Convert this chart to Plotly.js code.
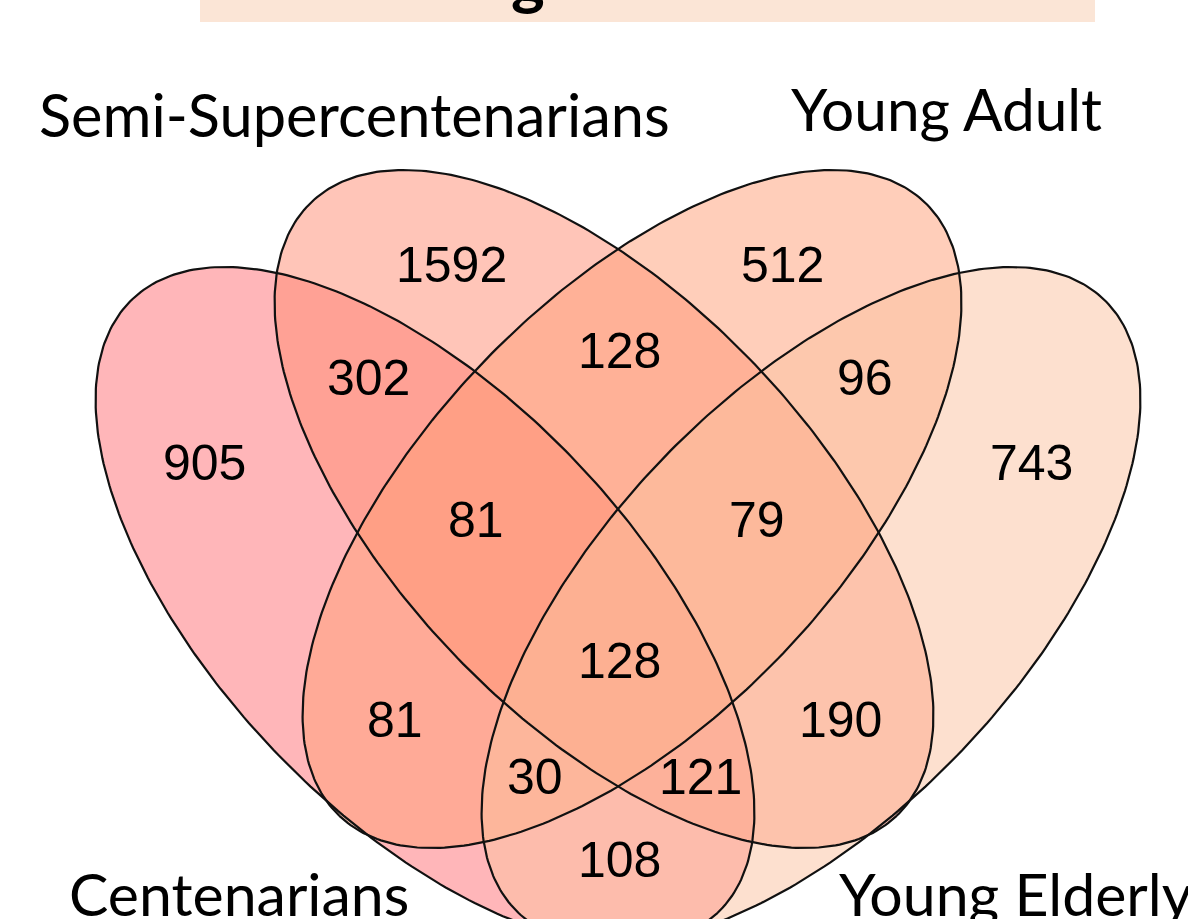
<!DOCTYPE html>
<html><head><meta charset="utf-8">
<script src="https://cdn.plot.ly/plotly-3.0.1.min.js"></script>
<style>html,body{margin:0;padding:0;background:#fff}#chart{width:1188px;height:919px}</style>
</head><body><div id="chart"></div>
<script>
// ---- data ----
const setNames = ["Centenarians", "Semi-Supercentenarians", "Young Adult", "Young Elderly"];
const regionKeys = ["C", "S", "YA", "YE", "C&S", "S&YA", "YA&YE", "C&S&YA", "S&YA&YE",
                    "C&S&YA&YE", "C&YA", "S&YE", "C&YA&YE", "C&S&YE", "C&YE"];
const regionCounts = [905, 1592, 512, 743, 302, 128, 96, 81, 79, 128, 81, 190, 30, 121, 108];
const titleFragment = "g";

// ---- layout (pixel geometry, styles) ----
const W = 1188, H = 919;
const regionLabelPos = [[204,463],[451,265],[782,265],[1031,463],[368,378],[619,351],[865,378],
  [476,520],[757,520],[619,661],[395,720],[840,720],[535,777],[700,777],[619,860]];
const setLabelPos = [[67,893],[37,114],[789,108],[837,893]];
const setLabelSize = [59, 59.5, 58.5, 59];
const ellipseGeom = [
  {cx:425, cy:606, a:424, b:209, ang:46.35},
  {cx:604, cy:509, a:424, b:209, ang:46.35},
  {cx:632, cy:509, a:424, b:209, ang:133.65},
  {cx:811, cy:606, a:424, b:209, ang:133.65}
];
const fillColors = ['rgba(255,109,115,0.5)','rgba(255,139,113,0.5)','rgba(255,157,117,0.5)','rgba(251,193,159,0.5)'];

function ellipsePath(g){
  const xs=[], ys=[], n=360, r=g.ang*Math.PI/180;
  for(let i=0;i<=n;i++){
    const t=2*Math.PI*i/n;
    const u=g.a*Math.cos(t), v=g.b*Math.sin(t);
    xs.push(g.cx + u*Math.cos(r) - v*Math.sin(r));
    ys.push(g.cy + u*Math.sin(r) + v*Math.cos(r));
  }
  return {xs, ys};
}

const traces = [];
ellipseGeom.forEach((g,i)=>{
  const p = ellipsePath(g);
  traces.push({type:'scatter', mode:'lines', x:p.xs, y:p.ys, fill:'toself',
    fillcolor:fillColors[i], line:{width:0, color:'rgba(0,0,0,0)'}, hoverinfo:'skip', name:setNames[i]});
});
ellipseGeom.forEach((g,i)=>{
  const p = ellipsePath(g);
  traces.push({type:'scatter', mode:'lines', x:p.xs, y:p.ys,
    line:{width:2.2, color:'#111'}, hoverinfo:'skip', name:setNames[i]+' outline'});
});

const annotations = [];
regionCounts.forEach((c,i)=>{
  annotations.push({x:regionLabelPos[i][0], y:regionLabelPos[i][1], xref:'x', yref:'y',
    text:String(c), showarrow:false, xanchor:'center', yanchor:'middle',
    font:{family:'Liberation Sans, Arial, sans-serif', size:50, color:'#000'}});
});
setNames.forEach((s,i)=>{
  annotations.push({x:setLabelPos[i][0], y:setLabelPos[i][1], xref:'x', yref:'y',
    text:s, showarrow:false, xanchor:'left', yanchor:'middle',
    font:{family:'Lato, sans-serif', size:setLabelSize[i], color:'#000'}});
});
annotations.push({x:528, y:19, xref:'x', yref:'y', text:titleFragment, showarrow:false,
  xanchor:'center', yanchor:'bottom', font:{family:'Lato, sans-serif', size:64, color:'#000', weight:700}});

const layout = {
  width:W, height:H, margin:{l:0,r:0,t:0,b:0}, showlegend:false,
  paper_bgcolor:'#ffffff', plot_bgcolor:'#ffffff',
  xaxis:{range:[0,W], visible:false, fixedrange:true},
  yaxis:{range:[H,0], visible:false, fixedrange:true},
  shapes:[{type:'rect', xref:'x', yref:'y', x0:200, x1:1095, y0:-5, y1:22,
    fillcolor:'#FBE5D6', line:{width:0}, layer:'below'}],
  annotations
};
Plotly.newPlot('chart', traces, layout, {displayModeBar:false, staticPlot:true});
</script></body></html>
